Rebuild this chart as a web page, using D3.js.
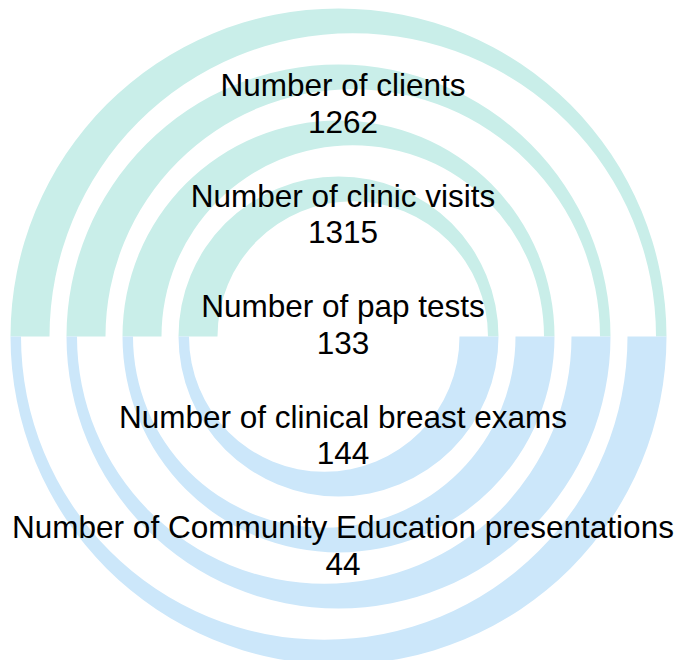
<!DOCTYPE html>
<html>
<head>
<meta charset="utf-8">
<script src="https://cdn.jsdelivr.net/npm/d3@7"></script>
<style>
  html, body { margin: 0; padding: 0; background: #fff; }
  svg { display: block; }
  .label { font-family: "Liberation Sans", Arial, sans-serif; font-size: 31.5px; fill: #000; }
</style>
</head>
<body>
<div id="chart"></div>
<script>
// DATA
////////////////////////////
var labels = ["Number of clients", "Number of clinic visits", "Number of pap tests",
              "Number of clinical breast exams", "Number of Community Education presentations"];
var values = [1262, 1315, 133, 144, 44];
var rings = [0, 1, 2, 3];            // concentric decorative rings, inner -> outer
var halves = ["top", "bottom"];      // top half teal, bottom half blue

// SETUP
////////////////////////////
var width = 683,
    height = 660;

var cx = 338.5, cy = 336.5;
var thick = 39, thin = 10.5;         // band width at the thick and thin ends
var delta = (thick + thin) / 2,      // mean band width
    shift = (thick - thin) / 2;      // offset of inner circle -> crescent

var svg = d3.select("#chart").append("svg")
    .attr("width", width)
    .attr("height", height);

// outer radius of each ring
var r = d3.scaleLinear().domain([0, 3]).range([160, 328]);

var colour = d3.scaleOrdinal()
    .domain(halves)
    .range(["#c9eee9", "#cce7fa"]);

// crescent half-ring: outer circle concentric, inner circle shifted sideways
function crescent(R, half) {
  var p = d3.path(),
      ri = R - delta;
  if (half == "top") {
    p.moveTo(cx - R, cy);
    p.arc(cx, cy, R, Math.PI, 2 * Math.PI);
    p.lineTo(cx + shift + ri, cy);
    p.arc(cx + shift, cy, ri, 0, Math.PI, true);
  } else {
    p.moveTo(cx + R, cy);
    p.arc(cx, cy, R, 0, Math.PI);
    p.lineTo(cx - shift - ri, cy);
    p.arc(cx - shift, cy, ri, Math.PI, 0, true);
  }
  p.closePath();
  return p.toString();
}

var pieces = [];
rings.forEach(function(i) {
  halves.forEach(function(h) { pieces.push({ring: i, half: h}); });
});

svg.append("g").selectAll("path")
  .data(pieces)
  .enter().append("path")
    .attr("d", function(d) { return crescent(r(d.ring), d.half); })
    .attr("fill", function(d) { return colour(d.half); });

// TEXT
////////////////////////////
var y = d3.scaleLinear().domain([0, labels.length - 1]).range([96, 538]);
var tx = 343;

var g = svg.append("g").selectAll("g")
  .data(labels)
  .enter().append("g");

g.append("text")
    .attr("class", "label")
    .attr("x", tx)
    .attr("y", function(d, i) { return y(i); })
    .attr("text-anchor", "middle")
    .text(function(d) { return d; });

g.append("text")
    .attr("class", "label")
    .attr("x", tx)
    .attr("y", function(d, i) { return y(i) + 36.5; })
    .attr("text-anchor", "middle")
    .text(function(d, i) { return values[i]; });
</script>
</body>
</html>
